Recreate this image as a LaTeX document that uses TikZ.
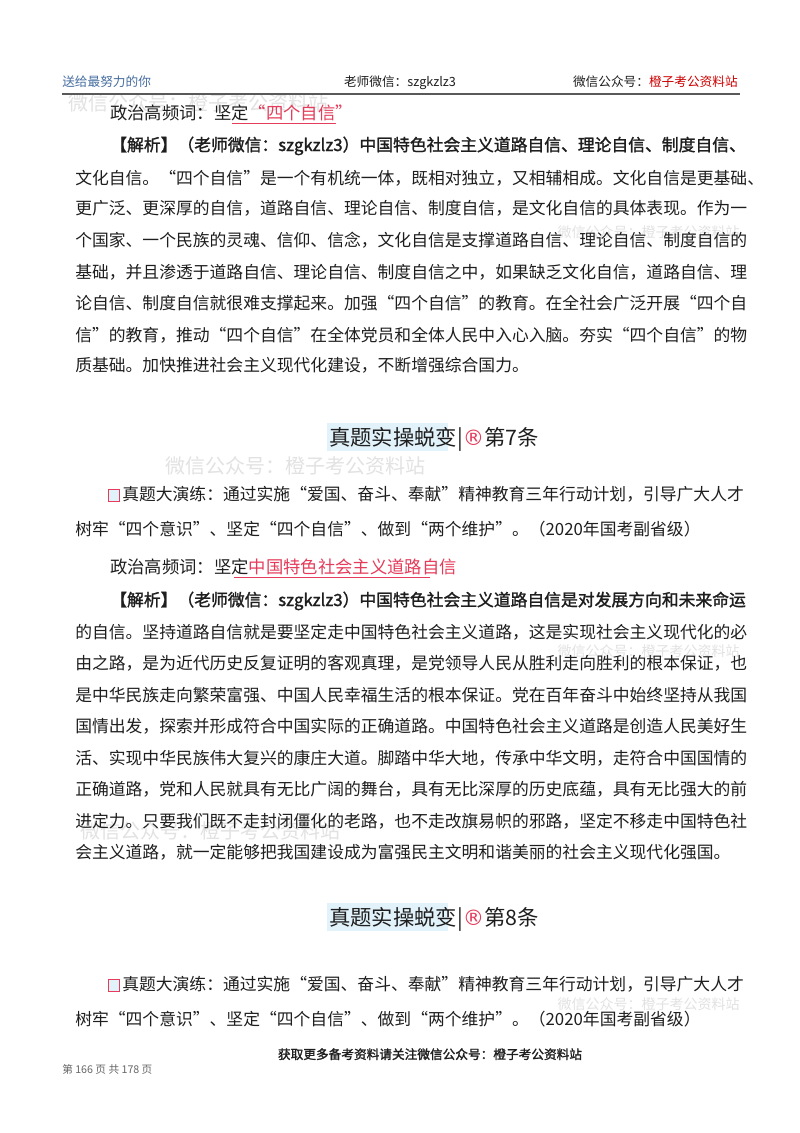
\documentclass[tikz,border=0pt]{standalone}
\usepackage{fontspec}
\setmainfont{Noto Sans CJK SC}
\newfontfamily\cjkb[FakeBold=1.5]{Noto Sans CJK SC}
\newfontfamily\dvs{DejaVu Sans}
\definecolor{hred}{RGB}{228,60,90}
\definecolor{hblue}{RGB}{70,110,160}
\definecolor{wm}{RGB}{226,226,226}
\definecolor{hl}{RGB}{226,242,250}
\definecolor{txt}{RGB}{30,30,30}
\begin{document}
\begin{tikzpicture}[x=0.75pt,y=-0.75pt,
  body/.style={anchor=base west,inner sep=0,text=txt,font=\fontsize{12.6pt}{14pt}\selectfont},
  kw/.style={anchor=base west,inner sep=0,text=txt,font=\fontsize{13pt}{14pt}\selectfont},
  wmark/.style={anchor=base west,inner sep=0,text=wm,font=\fontsize{15pt}{16pt}\selectfont},
  wmarks/.style={anchor=base east,inner sep=0,text=wm,font=\fontsize{10.5pt}{12pt}\selectfont},
  head/.style={anchor=base,inner sep=0,text=txt,font=\fontsize{16pt}{17pt}\selectfont},
  chk/.style={draw=hred,fill=hl,line width=0.6pt}]
\useasboundingbox (0,0) rectangle (800,1133);
\fill[white] (0,0) rectangle (800,1133);
% watermarks
\node[wmark] (w1) at (68,110) {微信公众号：橙子考公资料站};
\node[wmark] (w2) at (165,473) {微信公众号：橙子考公资料站};
\node[wmarks] (w3) at (740,237) {微信公众号：橙子考公资料站};
\node[wmarks] (w4) at (740,656) {微信公众号：橙子考公资料站};
\node[wmark] (w5) at (80,838) {微信公众号：橙子考公资料站};
\node[wmarks] (w6) at (740,1009) {微信公众号：橙子考公资料站};
% header
\node[anchor=base west,inner sep=0,text=hblue,font=\fontsize{9.5pt}{10pt}\selectfont] (h1) at (62,86) {送给最努力的你};
\node[anchor=base,inner sep=0,text=txt,font=\fontsize{9.5pt}{10pt}\selectfont] (h2) at (400,86) {老师微信：szgkzlz3};
\node[anchor=base east,inner sep=0,text=txt,font=\fontsize{9.5pt}{10pt}\selectfont] (h3) at (738,86) {微信公众号：\textcolor{red!80!black}{橙子考公资料站}};
\draw[gray!70!black,line width=0.8pt] (62,94) -- (740,94);
% section 1
\node[kw] (k1) at (110,119) {政治高频词：坚定\textcolor{hred}{“四个自信”}};
\draw[hred,line width=0.6pt] (232,123) -- (336,123);
\node[body] (a1) at (110,151) {\cjkb【解析】\mdseries（老师微信：szgkzlz3）中国特色社会主义道路自信、理论自信、制度自信、};
\node[body] (a2) at (75,184) {文化自信。“四个自信”是一个有机统一体，既相对独立，又相辅相成。文化自信是更基础、};
\node[body] (a3) at (75,214) {更广泛、更深厚的自信，道路自信、理论自信、制度自信，是文化自信的具体表现。作为一};
\node[body] (a4) at (75,246) {个国家、一个民族的灵魂、信仰、信念，文化自信是支撑道路自信、理论自信、制度自信的};
\node[body] (a5) at (75,278) {基础，并且渗透于道路自信、理论自信、制度自信之中，如果缺乏文化自信，道路自信、理};
\node[body] (a6) at (75,309) {论自信、制度自信就很难支撑起来。加强“四个自信”的教育。在全社会广泛开展“四个自};
\node[body] (a7) at (75,341) {信”的教育，推动“四个自信”在全体党员和全体人民中入心入脑。夯实“四个自信”的物};
\node[body] (a8) at (75,371) {质基础。加快推进社会主义现代化建设，不断增强综合国力。};
% heading 7
\fill[hl] (327,423) rectangle (448,451);
\node[head] (t7) at (434,445) {真题实操蜕变|\textcolor{hred}{\dvs ®}第7条};
% section 2
\draw[chk] (108,489) rectangle (119,501);
\node[body] (b1) at (122,500) {真题大演练：通过实施“爱国、奋斗、奉献”精神教育三年行动计划，引导广大人才};
\node[body] (b2) at (75,535) {树牢“四个意识”、坚定“四个自信”、做到“两个维护”。（2020年国考副省级）};
\node[kw] (k2) at (110,573) {政治高频词：坚定\textcolor{hred}{中国特色社会主义道路自信}};
\draw[hred,line width=0.6pt] (234,577) -- (430,577);
\node[body] (c1) at (110,606) {\cjkb【解析】\mdseries（老师微信：szgkzlz3）中国特色社会主义道路自信是对发展方向和未来命运};
\node[body] (c2) at (75,638) {的自信。坚持道路自信就是要坚定走中国特色社会主义道路，这是实现社会主义现代化的必};
\node[body] (c3) at (75,669) {由之路，是为近代历史反复证明的客观真理，是党领导人民从胜利走向胜利的根本保证，也};
\node[body] (c4) at (75,701) {是中华民族走向繁荣富强、中国人民幸福生活的根本保证。党在百年奋斗中始终坚持从我国};
\node[body] (c5) at (75,732) {国情出发，探索并形成符合中国实际的正确道路。中国特色社会主义道路是创造人民美好生};
\node[body] (c6) at (75,764) {活、实现中华民族伟大复兴的康庄大道。脚踏中华大地，传承中华文明，走符合中国国情的};
\node[body] (c7) at (75,795) {正确道路，党和人民就具有无比广阔的舞台，具有无比深厚的历史底蕴，具有无比强大的前};
\node[body] (c8) at (75,827) {进定力。只要我们既不走封闭僵化的老路，也不走改旗易帜的邪路，坚定不移走中国特色社};
\node[body] (c9) at (75,858) {会主义道路，就一定能够把我国建设成为富强民主文明和谐美丽的社会主义现代化强国。};
% heading 8
\fill[hl] (327,903) rectangle (448,931);
\node[head] (t8) at (434,925) {真题实操蜕变|\textcolor{hred}{\dvs ®}第8条};
% section 3
\draw[chk] (108,979) rectangle (119,991);
\node[body] (d1) at (122,990) {真题大演练：通过实施“爱国、奋斗、奉献”精神教育三年行动计划，引导广大人才};
\node[body] (d2) at (75,1025) {树牢“四个意识”、坚定“四个自信”、做到“两个维护”。（2020年国考副省级）};
% footer
\node[anchor=base,inner sep=0,text=txt,font=\fontsize{9.5pt}{10pt}\selectfont\cjkb] (f1) at (430,1059) {获取更多备考资料请关注微信公众号：橙子考公资料站};
\node[anchor=base west,inner sep=0,text=gray!80!black,font=\fontsize{8pt}{9pt}\selectfont] (f2) at (62,1073) {第 166 页 共 178 页};
\end{tikzpicture}
\end{document}
